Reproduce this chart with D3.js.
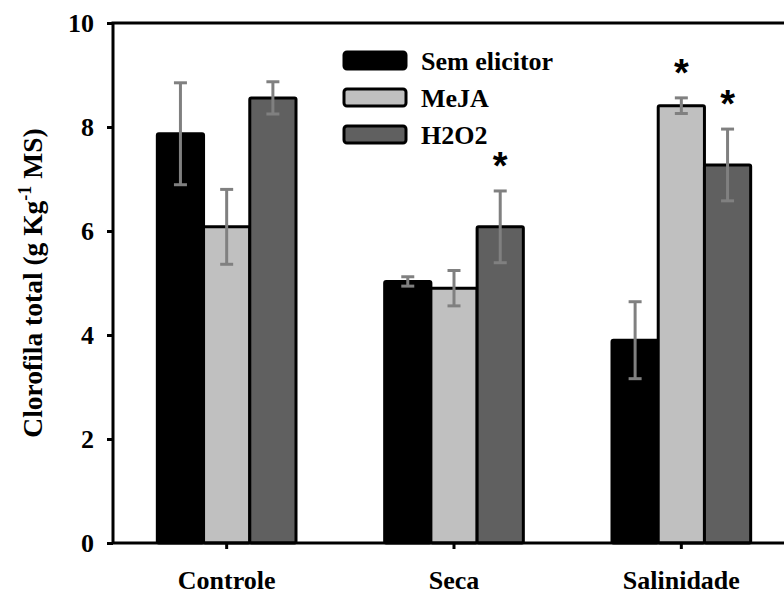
<!DOCTYPE html>
<html>
<head>
<meta charset="utf-8">
<script src="https://cdn.jsdelivr.net/npm/d3@7"></script>
<style>
  body { margin: 0; background: #fff; }
  text { font-family: "Liberation Serif", "Times New Roman", serif; font-weight: bold; }
</style>
</head>
<body>
<div id="vis"></div>
<script>
// Chart size
const width = 784;
const height = 594;

// Data
const groups = ['Controle', 'Seca', 'Salinidade'];
const seriesNames = ['Sem elicitor', 'MeJA', 'H2O2'];
const semElicitor = [7.87, 5.03, 3.90];
const meja = [6.08, 4.90, 8.41];
const h2o2 = [8.56, 6.08, 7.27];
const semElicitorErr = [0.98, 0.09, 0.74];
const mejaErr = [0.72, 0.34, 0.15];
const h2o2Err = [0.31, 0.69, 0.69];
// significance stars (true = asterisk over the bar)
const semElicitorStar = [false, false, false];
const mejaStar = [false, false, true];
const h2o2Star = [false, true, true];
const yTicks = [0, 2, 4, 6, 8, 10];

const colours = ['#000000', '#c0c0c0', '#606060'];

const margin = { top: 23, left: 113, right: -11, bottom: 51 };
const fontSize = 26;

const values = [semElicitor, meja, h2o2];
const errs = [semElicitorErr, mejaErr, h2o2Err];
const stars = [semElicitorStar, mejaStar, h2o2Star];

let rows = [];
groups.forEach((g, gi) => {
    seriesNames.forEach((s, si) => {
        rows.push({ group: g, series: s, si: si, value: values[si][gi], err: errs[si][gi], star: stars[si][gi] });
    });
});

let svg = d3.select('#vis')
    .append('svg')
    .attr('width', width)
    .attr('height', height);

// Scales
let xScale = d3.scaleBand()
    .domain(groups)
    .range([margin.left, width - margin.right])
    .paddingInner(0)
    .paddingOuter(0);

let xInner = d3.scaleBand()
    .domain(seriesNames)
    .range([0, xScale.bandwidth() * 0.61]);

let yScale = d3.scaleLinear()
    .domain([0, 10])
    .range([height - margin.bottom, margin.top]);

const groupOffset = xScale.bandwidth() * (1 - 0.61) / 2;

// Bars
svg.selectAll('rect.bar')
    .data(rows)
    .join('rect')
    .attr('class', 'bar')
    .attr('x', d => xScale(d.group) + groupOffset + xInner(d.series))
    .attr('y', d => yScale(d.value))
    .attr('width', xInner.bandwidth())
    .attr('height', d => yScale(0) - yScale(d.value))
    .attr('fill', d => colours[d.si])
    .attr('stroke', '#000')
    .attr('stroke-width', 3)
    .attr('rx', 1.5);

// Error bars
const capW = 13;
let eb = svg.selectAll('g.err')
    .data(rows)
    .join('g')
    .attr('class', 'err')
    .attr('stroke', '#808080')
    .attr('stroke-width', 3);

const cx = d => xScale(d.group) + groupOffset + xInner(d.series) + xInner.bandwidth() / 2;

eb.append('line')
    .attr('x1', cx).attr('x2', cx)
    .attr('y1', d => yScale(d.value + d.err))
    .attr('y2', d => yScale(d.value - d.err));
eb.append('line')
    .attr('x1', d => cx(d) - capW / 2).attr('x2', d => cx(d) + capW / 2)
    .attr('y1', d => yScale(d.value + d.err))
    .attr('y2', d => yScale(d.value + d.err));
eb.append('line')
    .attr('x1', d => cx(d) - capW / 2).attr('x2', d => cx(d) + capW / 2)
    .attr('y1', d => yScale(d.value - d.err))
    .attr('y2', d => yScale(d.value - d.err));

// Asterisks
svg.selectAll('text.star')
    .data(rows.filter(d => d.star))
    .join('text')
    .attr('class', 'star')
    .attr('x', cx)
    .attr('y', d => yScale(d.value + d.err) - 12)
    .attr('text-anchor', 'middle')
    .style('font-family', '"Liberation Sans", Arial, sans-serif')
    .attr('font-size', 38)
    .text('*');

// Axes
let yaxis = d3.axisLeft(yScale).tickValues(yTicks).tickSize(6).tickPadding(13).tickFormat(d3.format('d'));
let xaxis = d3.axisBottom(xScale).tickSize(6).tickPadding(22);

let gy = svg.append('g')
    .attr('transform', `translate(${margin.left},0)`)
    .call(yaxis);
let gx = svg.append('g')
    .attr('transform', `translate(0,${height - margin.bottom})`)
    .call(xaxis);

[gx, gy].forEach(g => {
    g.select('.domain').remove();
    g.selectAll('.tick line').attr('stroke', '#000').attr('stroke-width', 3);
    g.selectAll('.tick text').attr('fill', '#000').attr('font-size', fontSize)
        .style('font-family', '"Liberation Serif", "Times New Roman", serif').style('font-weight', 'bold');
});

// Frame lines
svg.append('rect')
    .attr('x', margin.left)
    .attr('y', margin.top)
    .attr('width', width - margin.right - margin.left)
    .attr('height', height - margin.bottom - margin.top)
    .attr('fill', 'none')
    .attr('stroke', '#000')
    .attr('stroke-width', 3);

// Y axis title
svg.append('text')
    .attr('transform', `translate(42,283) rotate(-90)`)
    .attr('text-anchor', 'middle')
    .attr('font-size', 27.5)
    .call(t => {
        t.append('tspan').text('Clorofila total (g Kg');
        t.append('tspan').attr('dy', -11).attr('font-size', 18).text('-1');
        t.append('tspan').attr('dy', 11).text(' MS)');
    });

// Legend
let legend = svg.append('g')
    .attr('transform', 'translate(344,52)');
let li = legend.selectAll('g')
    .data(seriesNames)
    .join('g')
    .attr('transform', (d, i) => `translate(0,${i * 37})`);
li.append('rect')
    .attr('width', 62)
    .attr('height', 17)
    .attr('rx', 3)
    .attr('fill', (d, i) => colours[i])
    .attr('stroke', '#000')
    .attr('stroke-width', 3);
li.append('text')
    .attr('x', 77)
    .attr('y', 18)
    .attr('font-size', fontSize)
    .text(d => d);
</script>
</body>
</html>
